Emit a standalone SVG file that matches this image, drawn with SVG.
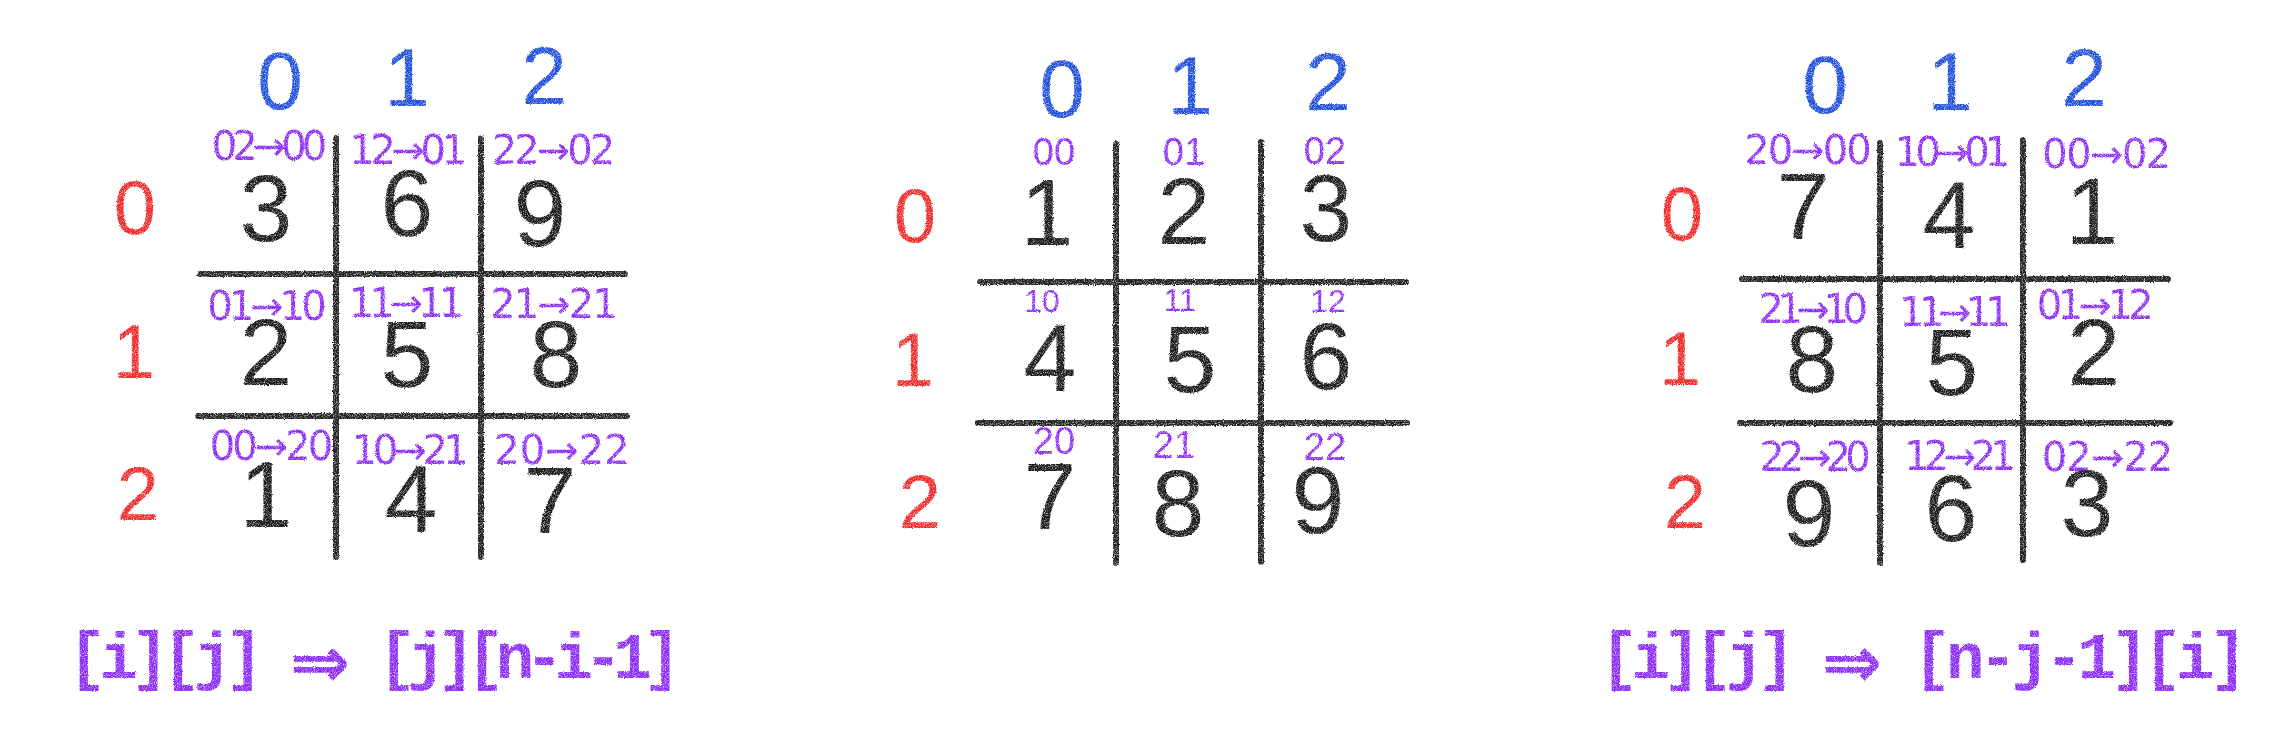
<svg xmlns="http://www.w3.org/2000/svg" width="2296" height="739" viewBox="0 0 2296 739">
<defs>
<filter id="crayon" filterUnits="userSpaceOnUse" x="0" y="0" width="2296" height="739" color-interpolation-filters="sRGB">
<feTurbulence type="fractalNoise" baseFrequency="1.1" numOctaves="1" seed="7" result="n"/>
<feDisplacementMap in="SourceGraphic" in2="n" scale="3" xChannelSelector="R" yChannelSelector="G" result="d"/>
<feColorMatrix in="n" type="matrix" values="0 0 0 0 0  0 0 0 0 0  0 0 0 0 0  0 0 0 -2.5 2.2" result="g"/>
<feComposite in="d" in2="g" operator="in"/>
</filter>
</defs>
<style>
.grid line{stroke:#222;stroke-width:6;stroke-linecap:round}
text{font-family:"Liberation Sans",Arial,"DejaVu Sans",sans-serif;text-anchor:middle}
.num{font-size:95px;fill:#1c1c1c}
.col{font-size:82px;fill:#2150dc}
.row{font-size:76px;fill:#ef2b2b}
.lbl{font-family:"DejaVu Sans",sans-serif;font-size:40px;fill:#8c2df5}
.lb2{font-size:38px;fill:#8c2df5}
.lb3{font-size:32px;fill:#8c2df5}
.f{font-family:"Liberation Mono","DejaVu Sans Mono",monospace;font-size:64px;font-weight:bold;fill:#8c2df5;text-anchor:start}
.arr{font-family:"DejaVu Sans","Liberation Sans",sans-serif;font-size:72px;font-weight:bold;fill:#8c2df5}
.tex{filter:url(#crayon)}
</style>
<rect width="2296" height="739" fill="#ffffff"/>

<!-- LEFT PANEL -->
<g id="panel-left" class="tex">
  <g id="left-cols">
    <text class="col" x="280" y="109">0</text>
    <text class="col" x="407" y="106">1</text>
    <text class="col" x="544" y="104">2</text>
  </g>
  <g id="left-rows">
    <text class="row" x="135" y="234">0</text>
    <text class="row" x="134" y="378">1</text>
    <text class="row" x="138" y="520">2</text>
  </g>
  <g id="left-grid" class="grid">
    <line x1="336" y1="138" x2="336" y2="557"/>
    <line x1="481" y1="138" x2="481" y2="557"/>
    <line x1="200" y1="274" x2="625" y2="274"/>
    <line x1="198" y1="416" x2="627" y2="416"/>
  </g>
  <g id="left-c00"><text class="lbl" x="267" y="160" style="letter-spacing:-5px">02→00</text><text class="num" x="266" y="241">3</text></g>
  <g id="left-c01"><text class="lbl" x="406" y="164" style="letter-spacing:-4.4px">12→01</text><text class="num" x="407" y="236">6</text></g>
  <g id="left-c02"><text class="lbl" x="552" y="164" style="letter-spacing:-3px">22→02</text><text class="num" x="540" y="246">9</text></g>
  <g id="left-c10"><text class="lbl" x="265" y="320" style="letter-spacing:-4px">01→10</text><text class="num" x="266" y="385">2</text></g>
  <g id="left-c11"><text class="lbl" x="404" y="317" style="letter-spacing:-5px">11→11</text><text class="num" x="407" y="387">5</text></g>
  <g id="left-c12"><text class="lbl" x="553" y="318" style="letter-spacing:-2px">21→21</text><text class="num" x="556" y="387">8</text></g>
  <g id="left-c20"><text class="lbl" x="270" y="460" style="letter-spacing:-3px">00→20</text><text class="num" x="266" y="527">1</text></g>
  <g id="left-c21"><text class="lbl" x="408" y="464" style="letter-spacing:-4.6px">10→21</text><text class="num" x="411" y="532">4</text></g>
  <g id="left-c22"><text class="lbl" x="562" y="464" style="letter-spacing:0px">20→22</text><text class="num" x="550" y="533">7</text></g>
  <g id="left-formula">
    <text class="f" x="68" y="678" style="letter-spacing:-7px">[i][j]</text>
    <text class="arr" x="320" y="687">⇒</text>
    <text class="f" x="378" y="678" style="letter-spacing:-9px">[j][n-i-1]</text>
  </g>
</g>

<!-- MIDDLE PANEL -->
<g id="panel-middle" class="tex">
  <g id="mid-cols">
    <text class="col" x="1062" y="117">0</text>
    <text class="col" x="1190" y="114">1</text>
    <text class="col" x="1328" y="110">2</text>
  </g>
  <g id="mid-rows">
    <text class="row" x="915" y="242">0</text>
    <text class="row" x="913" y="386">1</text>
    <text class="row" x="920" y="528">2</text>
  </g>
  <g id="mid-grid" class="grid">
    <line x1="1116" y1="144" x2="1116" y2="563"/>
    <line x1="1261" y1="142" x2="1261" y2="562"/>
    <line x1="980" y1="282" x2="1406" y2="282"/>
    <line x1="978" y1="423" x2="1407" y2="423"/>
  </g>
  <g id="mid-c00"><text class="lb2" x="1054" y="165">00</text><text class="num" x="1047" y="245">1</text></g>
  <g id="mid-c01"><text class="lb2" x="1184" y="165">01</text><text class="num" x="1184" y="244">2</text></g>
  <g id="mid-c02"><text class="lb2" x="1325" y="164">02</text><text class="num" x="1326" y="241">3</text></g>
  <g id="mid-c10"><text class="lb3" x="1042" y="312">10</text><text class="num" x="1050" y="391">4</text></g>
  <g id="mid-c11"><text class="lb3" x="1180" y="311">11</text><text class="num" x="1190" y="392">5</text></g>
  <g id="mid-c12"><text class="lb3" x="1328" y="312">12</text><text class="num" x="1326" y="389">6</text></g>
  <g id="mid-c20"><text class="lb2" x="1054" y="454">20</text><text class="num" x="1050" y="529">7</text></g>
  <g id="mid-c21"><text class="lb2" x="1174" y="458">21</text><text class="num" x="1178" y="536">8</text></g>
  <g id="mid-c22"><text class="lb2" x="1325" y="460">22</text><text class="num" x="1318" y="533">9</text></g>
</g>

<!-- RIGHT PANEL -->
<g id="panel-right" class="tex">
  <g id="right-cols">
    <text class="col" x="1825" y="113">0</text>
    <text class="col" x="1950" y="110">1</text>
    <text class="col" x="2084" y="106">2</text>
  </g>
  <g id="right-rows">
    <text class="row" x="1682" y="240">0</text>
    <text class="row" x="1680" y="385">1</text>
    <text class="row" x="1685" y="528">2</text>
  </g>
  <g id="right-grid" class="grid">
    <line x1="1880" y1="143" x2="1880" y2="563"/>
    <line x1="2023" y1="140" x2="2023" y2="560"/>
    <line x1="1742" y1="279" x2="2168" y2="279"/>
    <line x1="1740" y1="423" x2="2170" y2="423"/>
  </g>
  <g id="right-c00"><text class="lbl" x="1807" y="164" style="letter-spacing:-2px">20→00</text><text class="num" x="1803" y="239">7</text></g>
  <g id="right-c01"><text class="lbl" x="1950" y="166" style="letter-spacing:-5px">10→01</text><text class="num" x="1949" y="248">4</text></g>
  <g id="right-c02"><text class="lbl" x="2106" y="168" style="letter-spacing:-1.6px">00→02</text><text class="num" x="2092" y="244">1</text></g>
  <g id="right-c10"><text class="lbl" x="1810" y="323" style="letter-spacing:-6.5px">21→10</text><text class="num" x="1812" y="392">8</text></g>
  <g id="right-c11"><text class="lbl" x="1952" y="326" style="letter-spacing:-6px">11→11</text><text class="num" x="1952" y="395">5</text></g>
  <g id="right-c12"><text class="lbl" x="2093" y="319" style="letter-spacing:-4.6px">01→12</text><text class="num" x="2094" y="385">2</text></g>
  <g id="right-c20"><text class="lbl" x="1812" y="471" style="letter-spacing:-6px">22→20</text><text class="num" x="1809" y="546">9</text></g>
  <g id="right-c21"><text class="lbl" x="1957" y="470" style="letter-spacing:-6px">12→21</text><text class="num" x="1951" y="541">6</text></g>
  <g id="right-c22"><text class="lbl" x="2107" y="471" style="letter-spacing:-1px">02→22</text><text class="num" x="2087" y="536">3</text></g>
  <g id="right-formula">
    <text class="f" x="1600" y="678" style="letter-spacing:-7px">[i][j]</text>
    <text class="arr" x="1852" y="687">⇒</text>
    <text class="f" x="1913" y="678" style="letter-spacing:-5.5px">[n-j-1][i]</text>
  </g>
</g>
</svg>
